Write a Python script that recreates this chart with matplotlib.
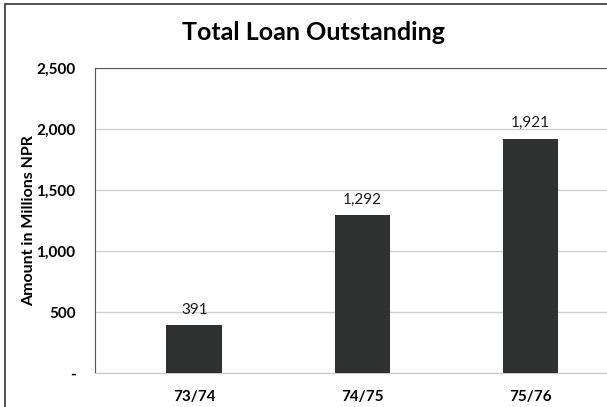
import matplotlib
matplotlib.use("Agg")
import matplotlib.pyplot as plt
from matplotlib.patches import Rectangle
from matplotlib.ticker import FuncFormatter

categories = ["73/74", "74/75", "75/76"]
values = [391, 1292, 1921]
value_labels = ["391", "1,292", "1,921"]
yticks = [0, 500, 1000, 1500, 2000, 2500]

plt.rcParams['font.family'] = ['Lato', 'DejaVu Sans']

W, H = 607, 407
fig = plt.figure(figsize=(W/100, H/100), dpi=100)
fig.patch.set_facecolor("white")

left, right, bottom, top = 95, 640, 373, 68
ax = fig.add_axes([left/W, 1 - bottom/H, (right-left)/W, (bottom-top)/H])

x = list(range(len(categories)))
ax.bar(x, values, width=0.33, color="#2f3030", zorder=3)
for xi, v, lab in zip(x, values, value_labels):
    ax.text(xi, v + 70, lab, ha="center", va="bottom", fontsize=11, color="#1a1a1a")

ax.set_ylim(0, 2500)
ax.set_xlim(-0.59, 2.65)
ax.set_yticks(yticks)
ax.yaxis.set_major_formatter(FuncFormatter(lambda v, p: "-" if v == 0 else f"{int(v):,}"))
ax.set_xticks(x)
ax.set_xticklabels(categories)
for lab in ax.get_xticklabels() + ax.get_yticklabels():
    lab.set_fontweight("bold")
    lab.set_fontsize(11)
ax.tick_params(axis="both", length=0)
ax.tick_params(axis="y", pad=14)
ax.tick_params(axis="x", pad=12)
ax.grid(axis="y", color="#d0d0d0", linewidth=1, zorder=0)
ax.spines["top"].set_color("#555555")
ax.spines["left"].set_color("#555555")
ax.spines["right"].set_visible(False)
ax.spines["bottom"].set_color("#c8c8c8")
ax.set_ylabel("Amount in Millions NPR", fontsize=11.5, fontweight="bold")
ax.yaxis.set_label_coords((36 - left) / (right - left), 0.5)

fig.text(314/W, 1 - 32/H, "Total Loan Outstanding", ha="center", va="center",
         fontsize=18, fontweight="bold")

fig.add_artist(Rectangle((5/W, -0.1), 1.1, 1 - 4/H + 0.1, transform=fig.transFigure,
                         fill=False, edgecolor="#333333", linewidth=1.2))

fig.savefig("out.png", dpi=100)
